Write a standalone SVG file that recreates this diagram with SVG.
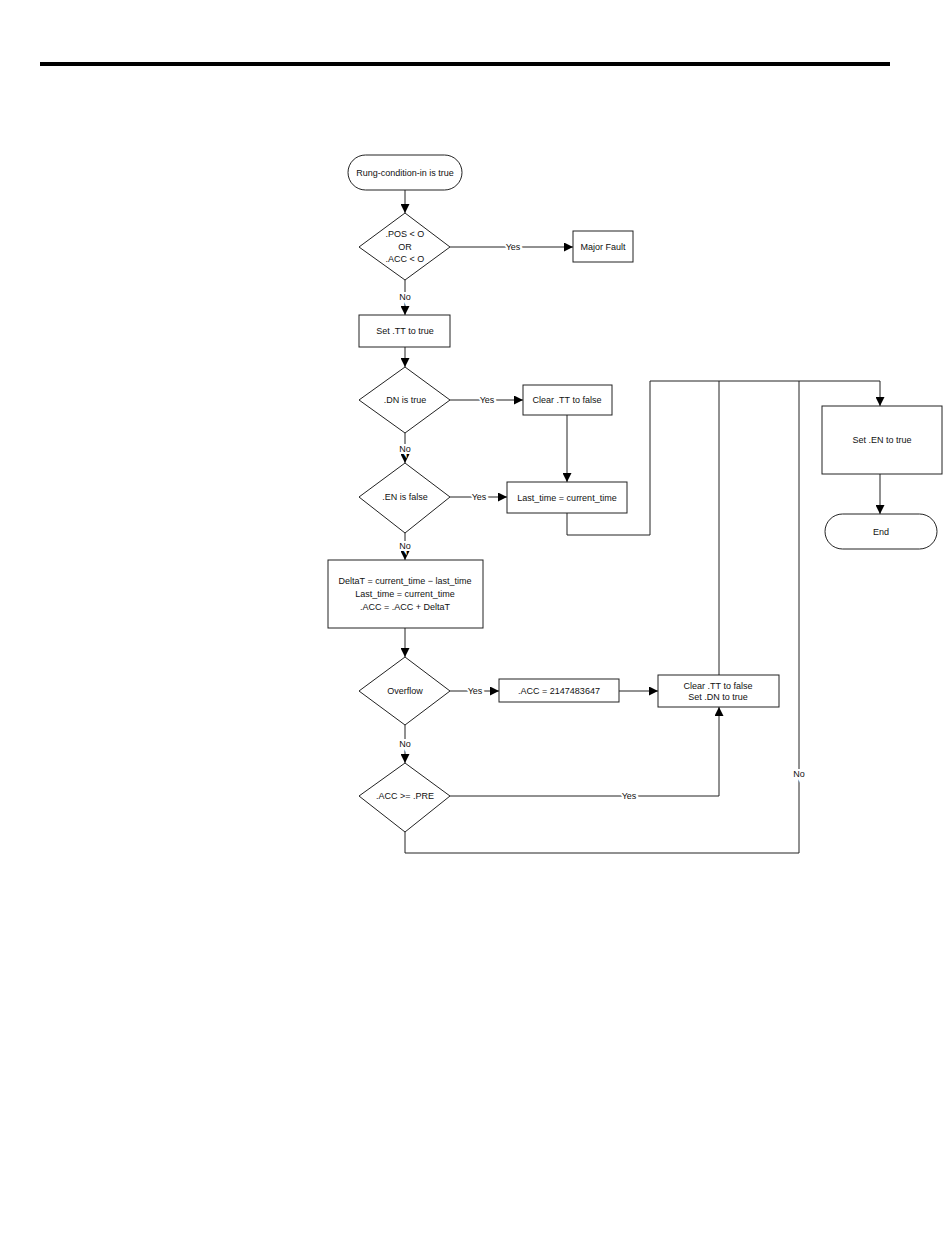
<svg xmlns="http://www.w3.org/2000/svg" width="950" height="1254" viewBox="0 0 950 1254">
<style>
.s{fill:#fff;stroke:#222;stroke-width:1}
.c{fill:none;stroke:#222;stroke-width:1}
text{font-family:"Liberation Sans",Arial,sans-serif;font-size:9px;fill:#111;text-anchor:middle;dominant-baseline:central}
.l{paint-order:stroke;stroke:#fff;stroke-width:4px}
</style>
<defs>
<marker id="a" viewBox="0 0 10 10" refX="10" refY="5" markerWidth="9" markerHeight="9" markerUnits="userSpaceOnUse" orient="auto">
<path d="M0,0L10,5L0,10z" fill="#000"/>
</marker>
</defs>
<rect width="950" height="1254" fill="#fff"/>
<line x1="40" y1="64" x2="890" y2="64" stroke="#000" stroke-width="4"/>
<g id="connectors">
<line class="c" x1="405" y1="190" x2="405" y2="213" marker-end="url(#a)"/>
<line class="c" x1="450" y1="247" x2="573" y2="247" marker-end="url(#a)"/>
<line class="c" x1="405" y1="280" x2="405" y2="315" marker-end="url(#a)"/>
<line class="c" x1="405" y1="347" x2="405" y2="367" marker-end="url(#a)"/>
<line class="c" x1="450" y1="400" x2="523" y2="400" marker-end="url(#a)"/>
<line class="c" x1="405" y1="433" x2="405" y2="463" marker-end="url(#a)"/>
<line class="c" x1="567" y1="415" x2="567" y2="482" marker-end="url(#a)"/>
<line class="c" x1="450" y1="497" x2="507" y2="497" marker-end="url(#a)"/>
<polyline class="c" points="567,513 567,535 650,535 650,381 880,381 880,406" marker-end="url(#a)"/>
<line class="c" x1="405" y1="533" x2="405" y2="560" marker-end="url(#a)"/>
<line class="c" x1="405" y1="628" x2="405" y2="657" marker-end="url(#a)"/>
<line class="c" x1="450" y1="691" x2="499" y2="691" marker-end="url(#a)"/>
<line class="c" x1="619" y1="691" x2="658" y2="691" marker-end="url(#a)"/>
<line class="c" x1="405" y1="725" x2="405" y2="763" marker-end="url(#a)"/>
<polyline class="c" points="450,796 719,796 719,707" marker-end="url(#a)"/>
<line class="c" x1="719" y1="675" x2="719" y2="381"/>
<polyline class="c" points="405,832 405,853 799,853 799,381"/>
<line class="c" x1="880" y1="474" x2="880" y2="514" marker-end="url(#a)"/>
<text class="l" x="513" y="247">Yes</text>
<text class="l" x="405" y="297">No</text>
<text class="l" x="487" y="400">Yes</text>
<text class="l" x="405" y="449">No</text>
<text class="l" x="479" y="497">Yes</text>
<text class="l" x="405" y="546">No</text>
<text class="l" x="475" y="691">Yes</text>
<text class="l" x="405" y="744">No</text>
<text class="l" x="629" y="796">Yes</text>
<text class="l" x="799" y="774">No</text>
</g>
<g id="start"><rect class="s" x="348" y="155" width="114" height="35" rx="17.5"/><text x="405" y="172.5">Rung-condition-in is true</text></g>
<g id="d1"><polygon class="s" points="405,213 450,247 405,280 359,247"/><text x="405" y="234">.POS &lt; O</text><text x="405" y="247">OR</text><text x="405" y="259">.ACC &lt; O</text></g>
<g id="fault"><rect class="s" x="573" y="231" width="60" height="31"/><text x="603" y="246.5">Major Fault</text></g>
<g id="settt"><rect class="s" x="359" y="315" width="91" height="32"/><text x="405" y="331">Set .TT to true</text></g>
<g id="d2"><polygon class="s" points="405,367 450,400 405,433 359,400"/><text x="405" y="400">.DN is true</text></g>
<g id="cleartt"><rect class="s" x="523" y="385" width="89" height="30"/><text x="567" y="400">Clear .TT to false</text></g>
<g id="d3"><polygon class="s" points="405,463 450,497 405,533 359,497"/><text x="405" y="497">.EN is false</text></g>
<g id="lasttime"><rect class="s" x="507" y="482" width="120" height="31"/><text x="567" y="497.5">Last_time = current_time</text></g>
<g id="delta"><rect class="s" x="328" y="560" width="155" height="68"/><text x="405" y="581">DeltaT = current_time − last_time</text><text x="405" y="594">Last_time = current_time</text><text x="405" y="607">.ACC = .ACC + DeltaT</text></g>
<g id="d4"><polygon class="s" points="405,657 450,691 405,725 359,691"/><text x="405" y="691">Overflow</text></g>
<g id="accmax"><rect class="s" x="499" y="679" width="120" height="23"/><text x="559" y="690.5">.ACC = 2147483647</text></g>
<g id="cleardn"><rect class="s" x="658" y="675" width="121" height="32"/><text x="718" y="686">Clear .TT to false</text><text x="718" y="697">Set .DN to true</text></g>
<g id="d5"><polygon class="s" points="405,763 450,796 405,832 359,796"/><text x="405" y="796">.ACC &gt;= .PRE</text></g>
<g id="seten"><rect class="s" x="822" y="406" width="120" height="68"/><text x="882" y="440">Set .EN to true</text></g>
<g id="end"><rect class="s" x="825" y="514" width="112" height="35" rx="17.5"/><text x="881" y="531.5">End</text></g>
</svg>
